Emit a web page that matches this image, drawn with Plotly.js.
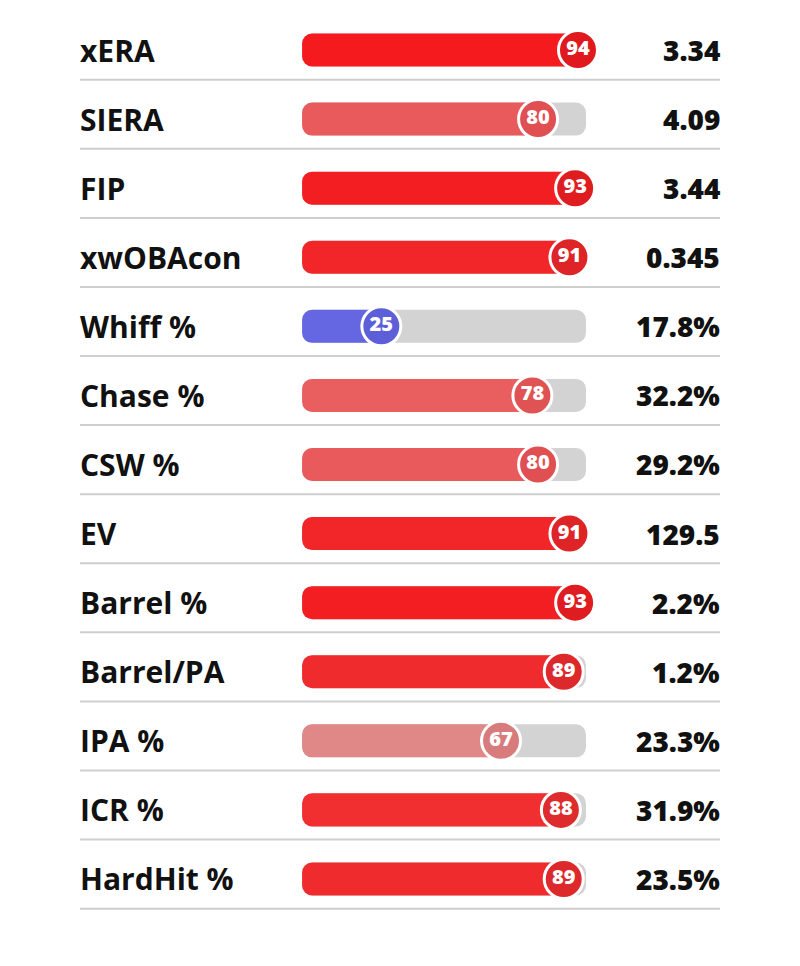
<!DOCTYPE html>
<html><head><meta charset="utf-8">
<script src="https://cdn.plot.ly/plotly-3.0.1.min.js"></script>
<style>html,body{margin:0;padding:0;background:#fff}</style></head>
<body>
<div id="chart" style="width:800px;height:966px"></div>
<script>
const metrics = ["xERA","SIERA","FIP","xwOBAcon","Whiff %","Chase %","CSW %","EV","Barrel %","Barrel/PA","IPA %","ICR %","HardHit %"];
const percentiles = [94,80,93,91,25,78,80,91,93,89,67,88,89];
const valueLabels = ["3.34","4.09","3.44","0.345","17.8%","32.2%","29.2%","129.5","2.2%","1.2%","23.3%","31.9%","23.5%"];
const barColors = ["#f41a1e","#e95a5c","#f31e21","#f22628","#6466e2","#e95e5f","#e95a5c","#f22628","#f31e21","#f02b2d","#e08788","#f12e30","#f02b2d"];
const dotColors = ["#e0191e","#e04f51","#df1d20","#de2427","#5d5fd9","#e05354","#e04f51","#de2427","#df1d20","#dd292b","#d87b7c","#de2c2e","#dd292b"];

const TRACK_START = -2.8, TRACK_END = 96.8;
const FONT = "'Open Sans', Lato, sans-serif";

const track = {
  type: "bar", orientation: "h", y: metrics,
  x: metrics.map(() => TRACK_END - TRACK_START), base: TRACK_START,
  width: 0.478, marker: {color: "#d3d3d3", cornerradius: 10},
  hoverinfo: "skip", showlegend: false
};
const fill = {
  type: "bar", orientation: "h", y: metrics,
  x: percentiles.map(p => p - TRACK_START), base: TRACK_START,
  width: 0.478, marker: {color: barColors, cornerradius: 10},
  hoverinfo: "skip", showlegend: false
};
const dots = {
  type: "scatter", mode: "markers+text", y: metrics, x: percentiles,
  text: percentiles.map(String), textposition: "middle center",
  textfont: {color: "#ffffff", size: 20, family: FONT, weight: 800},
  marker: {size: 39, color: dotColors, line: {color: "#ffffff", width: 3}},
  hoverinfo: "skip", showlegend: false, cliponaxis: false
};

const shapes = metrics.map((m, i) => ({
  type: "line", xref: "paper", yref: "y", x0: 0.1, x1: 0.9,
  y0: i + 0.43, y1: i + 0.43, line: {color: "#cfcfcf", width: 2}
}));

const annotations = [];
metrics.forEach((m, i) => {
  annotations.push({xref: "paper", yref: "y", x: 0.098, y: m, text: m, showarrow: false,
    xanchor: "left", yanchor: "middle", font: {size: 30, family: FONT, color: "#111", weight: 700}});
  annotations.push({xref: "paper", yref: "y", x: 0.9025, y: m, text: valueLabels[i], showarrow: false,
    xanchor: "right", yanchor: "middle", font: {size: 28, family: FONT, color: "#111", weight: 800}});
});

const layout = {
  width: 800, height: 966, margin: {l: 0, r: 0, t: 0, b: 0},
  paper_bgcolor: "#ffffff", plot_bgcolor: "#ffffff",
  barmode: "overlay", showlegend: false,
  xaxis: {range: [-108.8, 171.9], visible: false, fixedrange: true},
  yaxis: {type: "category", categoryorder: "array", categoryarray: metrics,
          range: [13.26, -0.724], visible: false, fixedrange: true},
  shapes: shapes, annotations: annotations
};

Plotly.newPlot("chart", [track, fill, dots], layout, {displayModeBar: false, staticPlot: true});
</script>
</body></html>
